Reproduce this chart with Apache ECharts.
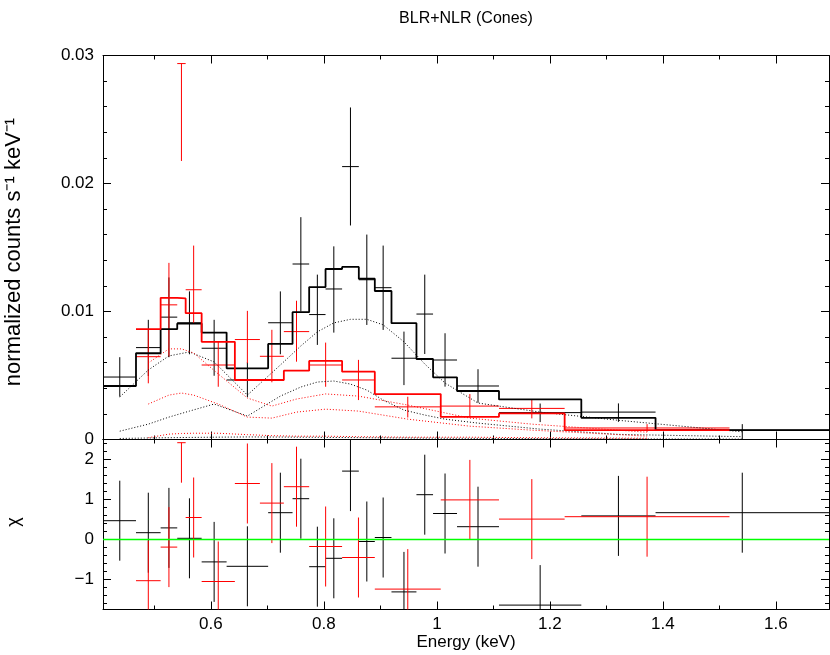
<!DOCTYPE html>
<html>
<head>
<meta charset="utf-8">
<script src="https://cdn.jsdelivr.net/npm/echarts@6/dist/echarts.min.js"></script>
<style>html,body{margin:0;padding:0;background:#fff}#main{width:830px;height:655px}</style>
</head>
<body>
<div id="main"></div>
<script>
// x range (keV) and tick positions
var xMin = 0.409, xMax = 1.694;
var xMajor = [0.6, 0.8, 1.0, 1.2, 1.4, 1.6];
var xMinor = [0.5, 0.7, 0.9, 1.1, 1.3, 1.5];
var chiMajor = [-1, 0, 1, 2];
var chiMinor = [-1.6, -1.4, -1.2, -0.8, -0.6, -0.4, -0.2, 0.2, 0.4, 0.6, 0.8, 1.2, 1.4, 1.6, 1.8, 2.2, 2.4];

// black spectrum (bin edges, data, model, components, residuals)
var blackEdges = [0.410, 0.4674, 0.5110, 0.5404, 0.5836, 0.6278, 0.7013, 0.7445, 0.7739, 0.8029, 0.8322,
                  0.8618, 0.8901, 0.9196, 0.9638, 0.9932, 1.0356, 1.1099, 1.2556, 1.3870, 1.694];
var blackRate   = [0.00488, 0.00718, 0.00956, 0.00912, 0.00713, 0.00465, 0.00912, 0.01371, 0.00976, 0.01176,
                   0.02132, 0.01248, 0.01186, 0.00635, 0.00980, 0.00621, 0.00418, 0.00210, 0.00214, 0.00073];
var blackRateLo = [0.00334, 0.00496, 0.00643, 0.00666, 0.00498, 0.00330, 0.00666, 0.01000, 0.00739, 0.00835,
                   0.01672, 0.00895, 0.00856, 0.00425, 0.00668, 0.00413, 0.00287, 0.00136, 0.00138, -0.00020];
var blackRateHi = [0.00643, 0.00935, 0.01266, 0.01157, 0.00935, 0.00603, 0.01157, 0.01737, 0.01288, 0.01509,
                   0.02594, 0.01601, 0.01515, 0.00843, 0.01288, 0.00830, 0.00549, 0.00281, 0.00282, 0.00120];
var blackModel  = [0.00418, 0.00674, 0.00862, 0.00906, 0.00835, 0.00556, 0.00747, 0.00995, 0.01191, 0.01332,
                   0.01348, 0.01256, 0.01160, 0.00909, 0.00629, 0.00486, 0.00379, 0.00313, 0.00169, 0.00073];
var blackComp1  = [0.00332, 0.00543, 0.00653, 0.00684, 0.00606, 0.00347, 0.00582, 0.00731, 0.00841, 0.00911,
                   0.00939, 0.00939, 0.00896, 0.00763, 0.00590, 0.00441, 0.00285, 0.00214, 0.00150, 0.00060];
var blackComp2  = [0.00065, 0.00120, 0.00175, 0.00222, 0.00277, 0.00183, 0.00339, 0.00410, 0.00449, 0.00457,
                   0.00433, 0.00386, 0.00308, 0.00230, 0.00191, 0.00159, 0.00128, 0.00081, 0.00040, 0.00022];
var blackComp3  = [0.00008, 0.00012, 0.00014, 0.00016, 0.00018, 0.00020, 0.00019, 0.00018, 0.00017, 0.00016,
                   0.00015, 0.00014, 0.00013, 0.00012, 0.00011, 0.00010, 0.00009, 0.00007, 0.00005, 0.00003];
var blackChi    = [0.47, 0.17, 0.29, 0.03, -0.56, -0.67, 0.67, 1.02, -0.68, -0.47,
                   1.71, -0.05, 0.05, -1.31, 1.12, 0.65, 0.32, -1.64, 0.59, 0.67];

// red spectrum
var redEdges  = [0.4674, 0.5110, 0.5404, 0.5553, 0.5836, 0.6424, 0.6867, 0.7291, 0.7739, 0.8322,
                 0.8901, 1.0068, 1.1099, 1.2261, 1.5179];
var redRate   = [0.00647, 0.01052, 0.02937, 0.01170, 0.00582, 0.00781, 0.00650, 0.00843, 0.00582, 0.00465,
                 0.00255, 0.00261, 0.00243, 0.00090];
var redRateLo = [0.00439, 0.00647, 0.02176, 0.00909, 0.00412, 0.00596, 0.00447, 0.00608, 0.00412, 0.00308,
                 0.00172, 0.00172, 0.00165, 0.00060];
var redRateHi = [0.00855, 0.01380, 0.02937, 0.01515, 0.00765, 0.01005, 0.00857, 0.01084, 0.00757, 0.00622,
                 0.00334, 0.00355, 0.00316, 0.00120];
var redModel  = [0.00862, 0.01107, 0.01102, 0.00987, 0.00763, 0.00465, 0.00465, 0.00538, 0.00614, 0.00530,
                 0.00355, 0.00177, 0.00204, 0.00073];
var redComp1  = [0.00598, 0.00708, 0.00708, 0.00676, 0.00512, 0.00324, 0.00261, 0.00316, 0.00356, 0.00339,
                 0.00269, 0.00167, 0.00120, 0.00057];
var redComp2  = [0.00277, 0.00347, 0.00363, 0.00347, 0.00277, 0.00175, 0.00167, 0.00214, 0.00237, 0.00222,
                 0.00159, 0.00104, 0.00073, 0.00026];
var redComp3  = [0.00014, 0.00042, 0.00047, 0.00049, 0.00049, 0.00038, 0.00030, 0.00026, 0.00026, 0.00022,
                 0.00018, 0.00018, 0.00014, 0.00010];
var redChi    = [-1.03, -0.19, 2.42, 0.55, -1.05, 1.40, 0.91, 1.32, -0.175, -0.45, -1.24, 0.99, 0.51, 0.57];
var redChiUp  = [1, 1, 0, 1, 1, 1, 1, 1, 1, 1, 1, 1, 1, 1];

var font = 'Liberation Sans';

function bars(edges, v, lo, hi) {
    return v.map(function (y, i) { return [edges[i], edges[i + 1], y, lo[i], hi[i]]; });
}
function chiBars(edges, v, up) {
    return v.map(function (y, i) { return [edges[i], edges[i + 1], y, y - 1, y + (up ? up[i] : 1)]; });
}
function steps(edges, v) {
    var pts = [];
    v.forEach(function (y, i) { pts.push([edges[i], y]); pts.push([edges[i + 1], y]); });
    return pts;
}
function centers(edges, v) {
    return v.map(function (y, i) { return [(edges[i] + edges[i + 1]) / 2, y]; });
}

function errSeries(data, color, xi, yi) {
    return {
        type: 'custom', xAxisIndex: xi, yAxisIndex: yi, clip: true, data: data,
        renderItem: function (params, api) {
            var xc = (api.value(0) + api.value(1)) / 2;
            var a = api.coord([api.value(0), api.value(2)]);
            var b = api.coord([api.value(1), api.value(2)]);
            var t = api.coord([xc, api.value(4)]);
            var d = api.coord([xc, api.value(3)]);
            var st = { stroke: color, lineWidth: 1 };
            return { type: 'group', children: [
                { type: 'line', shape: { x1: a[0], y1: a[1], x2: b[0], y2: b[1] }, style: st },
                { type: 'line', shape: { x1: t[0], y1: t[1], x2: d[0], y2: d[1] }, style: st }
            ]};
        }
    };
}
function lineSeries(data, color, width, type, xi, yi) {
    return {
        type: 'line', xAxisIndex: xi, yAxisIndex: yi, data: data, symbol: 'none', silent: true,
        itemStyle: { color: color },
        lineStyle: { color: color, width: width, type: type, opacity: 1 }
    };
}
// horizontal reference line drawn through the chi axes
function zeroLine(color) {
    return {
        type: 'custom', xAxisIndex: 4, yAxisIndex: 2, z: 10, data: [[xMin, xMax, 0]],
        renderItem: function (params, api) {
            var a = api.coord([api.value(0), api.value(2)]);
            var b = api.coord([api.value(1), api.value(2)]);
            return { type: 'line', shape: { x1: a[0], y1: a[1], x2: b[0], y2: b[1] },
                style: { stroke: color, lineWidth: 1.6 } };
        }
    };
}

function xAx(grid, pos, ticks, len, main, labels) {
    return {
        type: 'value', gridIndex: grid, position: pos, min: xMin, max: xMax,
        axisLine: { show: main, onZero: false, lineStyle: { color: '#000', width: 1 } },
        axisTick: { show: true, inside: true, length: len, customValues: ticks, lineStyle: { color: '#000' } },
        axisLabel: { show: labels, customValues: ticks, margin: 6, color: '#000', fontSize: 17, fontFamily: font },
        splitLine: { show: false }
    };
}
function chiAx(pos, ticks, len, main, labels) {
    return {
        type: 'value', gridIndex: 1, position: pos, min: -1.75, max: 2.5,
        axisLine: { show: main, onZero: false, lineStyle: { color: '#000', width: 1 } },
        axisTick: { show: true, inside: true, length: len, customValues: ticks, lineStyle: { color: '#000' } },
        axisLabel: { show: labels, customValues: ticks, margin: 9, color: '#000', fontSize: 17, fontFamily: font,
            formatter: function (v) { return String(v).replace('-', '\u2212'); } },
        splitLine: { show: false }
    };
}
function rateAx(pos, labels) {
    return {
        type: 'value', gridIndex: 0, position: pos, min: 0, max: 0.03, interval: 0.01,
        axisLine: { show: true, onZero: false, lineStyle: { color: '#000', width: 1 } },
        axisTick: { show: true, inside: true, length: 8, lineStyle: { color: '#000' } },
        minorTick: { show: true, splitNumber: 5, length: 4, lineStyle: { color: '#000' } },
        axisLabel: { show: labels, margin: 9, color: '#000', fontSize: 17, fontFamily: font },
        splitLine: { show: false }
    };
}

var myChart = echarts.init(document.getElementById('main'));
var option = {
    animation: false,
    backgroundColor: '#fff',
    grid: [
        { left: 103, right: 1, top: 55.5, height: 384, outerBoundsMode: 'none' },
        { left: 103, right: 1, top: 439.5, height: 170, outerBoundsMode: 'none' }
    ],
    xAxis: [
        xAx(0, 'bottom', xMajor, 8, true, false),
        xAx(0, 'bottom', xMinor, 4, false, false),
        xAx(0, 'top', xMajor, 8, true, false),
        xAx(0, 'top', xMinor, 4, false, false),
        xAx(1, 'bottom', xMajor, 8, true, true),
        xAx(1, 'bottom', xMinor, 4, false, false),
        xAx(1, 'top', xMajor, 8, true, false),
        xAx(1, 'top', xMinor, 4, false, false)
    ],
    yAxis: [
        rateAx('left', true),
        rateAx('right', false),
        chiAx('left', chiMajor, 8, true, true),
        chiAx('left', chiMinor, 4, false, false),
        chiAx('right', chiMajor, 8, true, false),
        chiAx('right', chiMinor, 4, false, false)
    ],
    graphic: [
        { type: 'text', x: 466, y: 19, style: { text: 'BLR+NLR (Cones)', textAlign: 'center', textVerticalAlign: 'middle',
            font: '16px "Liberation Sans"', fill: '#000' } },
        { type: 'text', x: 14, y: 252, rotation: Math.PI / 2, style: { text: 'normalized counts s\u207B\u00B9 keV\u207B\u00B9',
            textAlign: 'center', textVerticalAlign: 'middle', font: '22px "Liberation Sans"', fill: '#000' } },
        { type: 'text', x: 14, y: 522, rotation: Math.PI / 2, style: { text: '\u03C7',
            textAlign: 'center', textVerticalAlign: 'middle', font: '18px "Liberation Sans"', fill: '#000' } },
        { type: 'text', x: 466, y: 642, style: { text: 'Energy (keV)', textAlign: 'center', textVerticalAlign: 'middle',
            font: '17px "Liberation Sans"', fill: '#000' } }
    ],
    series: [
        lineSeries(centers(blackEdges, blackComp1), '#000', 1, [1, 2], 0, 0),
        lineSeries(centers(blackEdges, blackComp2), '#000', 1, [1, 2], 0, 0),
        lineSeries(centers(blackEdges, blackComp3), '#000', 1, [1, 2], 0, 0),
        lineSeries(centers(redEdges, redComp1), '#ff0000', 1, [1, 2], 0, 0),
        lineSeries(centers(redEdges, redComp2), '#ff0000', 1, [1, 2], 0, 0),
        lineSeries(centers(redEdges, redComp3), '#ff0000', 1, [1, 2], 0, 0),
        errSeries(bars(blackEdges, blackRate, blackRateLo, blackRateHi), '#000', 0, 0),
        errSeries(bars(redEdges, redRate, redRateLo, redRateHi), '#ff0000', 0, 0),
        lineSeries(steps(blackEdges, blackModel), '#000', 1.8, 'solid', 0, 0),
        lineSeries(steps(redEdges, redModel), '#ff0000', 1.8, 'solid', 0, 0),
        errSeries(chiBars(blackEdges, blackChi), '#000', 4, 2),
        errSeries(chiBars(redEdges, redChi, redChiUp), '#ff0000', 4, 2),
        zeroLine('#00ff00')
    ]
};
myChart.setOption(option);
</script>
</body>
</html>
